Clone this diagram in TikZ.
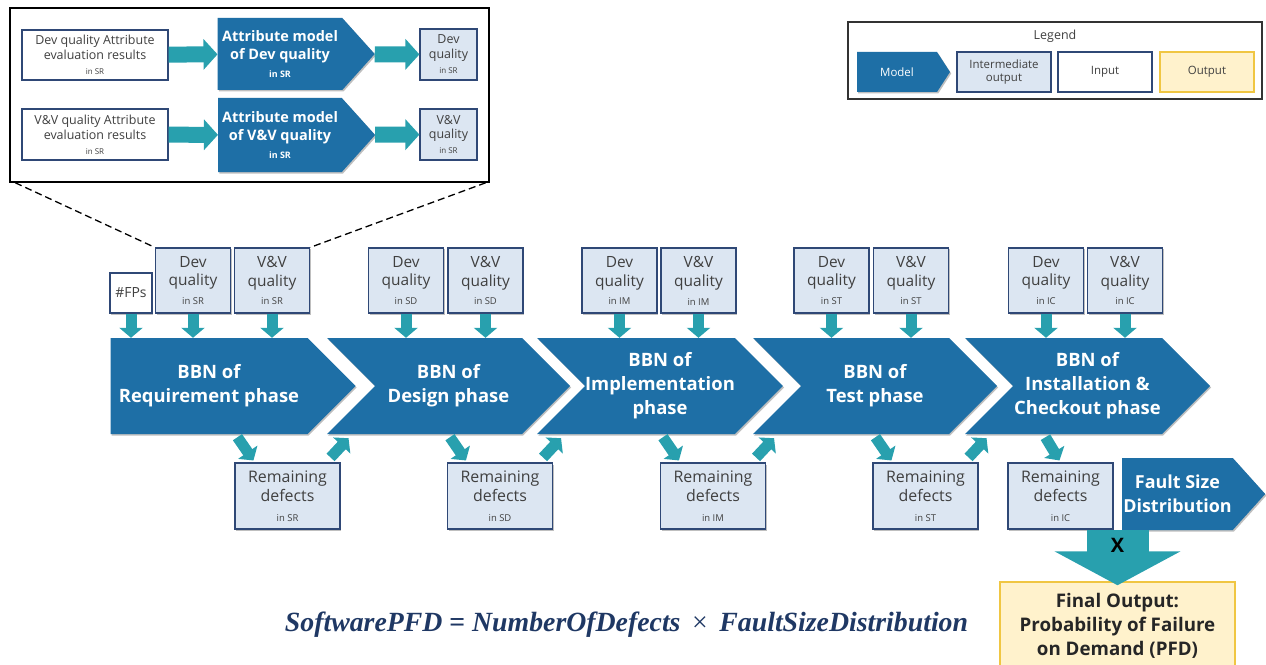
\documentclass[tikz,border=0pt]{standalone}
\usepackage{fontspec}
\setmainfont{Open Sans}
\newfontfamily\eqfont{Liberation Serif}
\usepackage{graphicx}
\usepackage{xcolor}
\usepackage{tikz}
\usetikzlibrary{shapes,arrows}
\usetikzlibrary{arrows.meta}
\usetikzlibrary{calc,shadows}

\definecolor{bbnblue}{RGB}{30,111,166}
\definecolor{boxfill}{RGB}{220,230,242}
\definecolor{boxline}{RGB}{47,72,118}
\definecolor{feedteal}{RGB}{40,160,174}
\definecolor{outfill}{RGB}{255,242,204}
\definecolor{outline}{RGB}{240,198,66}
\definecolor{eqnavy}{RGB}{31,56,100}
\definecolor{txtgray}{RGB}{64,64,64}

\newcommand{\inph}[1]{{\fontsize{9.5}{11}\selectfont in #1}}
\newcommand{\ininset}[1]{{\fontsize{8}{10}\selectfont in #1}}

\begin{document}
\begin{tikzpicture}[x=1bp, y=-1bp]
\tikzstyle{softshadow}=[drop shadow={shadow xshift=1.2bp, shadow yshift=-1.5bp, opacity=.25, fill=black}]
\tikzstyle{model}=[signal, signal to=east, signal pointer angle=90, fill=bbnblue, text=white, align=center, inner sep=0pt, softshadow]
\tikzstyle{phase}=[model, signal from=west, minimum height=96bp, font=\fontsize{18.5}{24}\selectfont\bfseries]
\tikzstyle{interbox}=[draw=boxline, fill=boxfill, line width=1.1bp, align=center, inner sep=0pt, text=txtgray, softshadow]
\tikzstyle{inputbox}=[interbox, fill=white]
\tikzstyle{outputbox}=[draw=outline, fill=outfill, line width=1.5bp, align=center, inner sep=0pt]
\tikzstyle{qbox}=[interbox, minimum width=75bp, minimum height=65bp, font=\fontsize{15.5}{19}\selectfont]
\tikzstyle{rembox}=[interbox, minimum width=105bp, minimum height=66bp, font=\fontsize{16}{19.5}\selectfont]
\tikzstyle{feed}=[draw=feedteal, line width=11bp, -{Triangle[width=23bp, length=10bp]}]
\tikzstyle{feedwide}=[draw=feedteal, line width=16bp, -{Triangle[width=30bp, length=14bp]}]
\tikzstyle{bigfeed}=[draw=feedteal, line width=62bp, -{Triangle[width=125bp, length=34bp]}]
\tikzstyle{zoomline}=[draw=black, line width=1.3bp, dash pattern=on 7bp off 4bp]

\useasboundingbox (0,0) rectangle (1266,665);
\clip (0,0) rectangle (1266,665);

% Zoomed 'inset' of the attribute models
\node[draw=black, line width=1.5bp, fill=white, minimum width=479bp, minimum height=174bp] (inset) at (249.5,95) {};
\node[inputbox, minimum width=146bp, minimum height=50bp, font=\fontsize{12.5}{15}\selectfont] (in-dev) at (95,55) {Dev quality Attribute\\evaluation results\\\ininset{SR}};
\node[model, signal pointer angle=96, minimum width=157bp, minimum height=72bp, font=\fontsize{14.5}{18}\selectfont\bfseries] (am-dev) at (280,54) {Attribute model\\of Dev quality\\{\fontsize{9}{11}\selectfont in SR}};
\node[interbox, minimum width=57bp, minimum height=51bp, font=\fontsize{12.5}{15}\selectfont] (q-dev) at (448.5,54.5) {Dev\\quality\\\ininset{SR}};
\node[inputbox, minimum width=146bp, minimum height=51bp, font=\fontsize{12.5}{15}\selectfont] (in-vv) at (95,134.5) {V\&V quality Attribute\\evaluation results\\\ininset{SR}};
\node[model, signal pointer angle=96, minimum width=157bp, minimum height=74bp, font=\fontsize{14.5}{18}\selectfont\bfseries] (am-vv) at (280,135) {Attribute model\\of V\&V quality\\{\fontsize{9}{11}\selectfont in SR}};
\node[interbox, minimum width=57bp, minimum height=51bp, font=\fontsize{12.5}{15}\selectfont] (q-vv) at (448.5,134.5) {V\&V\\quality\\\ininset{SR}};

\path[feedwide] (in-dev) -- (am-dev);
\path[feedwide] (am-dev) -- (q-dev);
\path[feedwide] (in-vv) -- (am-vv);
\path[feedwide] (am-vv) -- (q-vv);

% Legend
\node[draw=black!80, line width=1.2bp, fill=white, minimum width=414bp, minimum height=77bp, label={[anchor=north, font=\fontsize{12.5}{15}\selectfont, text=txtgray, yshift=-5bp]north:Legend}] (legend) at (1055,60.5) {};
\node[model, signal pointer angle=114, minimum width=93bp, minimum height=40bp, font=\fontsize{11.5}{14}\selectfont] (lg-model) at (897,72) {Model};
\node[interbox, minimum width=94bp, minimum height=40bp, font=\fontsize{11.5}{14}\selectfont] (lg-inter) at (1004,72) {Intermediate\\output};
\node[inputbox, minimum width=94bp, minimum height=40bp, font=\fontsize{11.5}{14}\selectfont] (lg-input) at (1105,72) {Input};
\node[outputbox, minimum width=94bp, minimum height=40bp, font=\fontsize{11.5}{14}\selectfont, text=txtgray] (lg-output) at (1207,72) {Output};

% Phase models
\node[phase, signal from=nowhere, minimum width=245bp] (bbn-req) at (209,386) {BBN of\\Requirement phase};
\node[phase, minimum width=243bp] (bbn-des) at (448.5,386) {BBN of\\Design phase};
\node[phase, minimum width=244bp] (bbn-imp) at (660,386) {BBN of\\Implementation\\phase};
\node[phase, minimum width=244bp] (bbn-tst) at (875,386) {BBN of\\Test phase};
\node[phase, minimum width=245bp] (bbn-ic) at (1087.5,386) {BBN of\\Installation \&\\Checkout phase};

% Quality inputs per phase
\node[inputbox, minimum width=42bp, minimum height=40bp, font=\fontsize{14}{17}\selectfont] (fps) at (131,293) {\#FPs};
\node[qbox] (dev-sr) at (193,280.5) {Dev\\quality\\\inph{SR}};
\node[qbox] (vv-sr) at (272,280.5) {V\&V\\quality\\\inph{SR}};
\node[qbox] (dev-sd) at (406,280.5) {Dev\\quality\\\inph{SD}};
\node[qbox] (vv-sd) at (485.5,280.5) {V\&V\\quality\\\inph{SD}};
\node[qbox] (dev-im) at (619.5,280.5) {Dev\\quality\\\inph{IM}};
\node[qbox] (vv-im) at (698.5,280.5) {V\&V\\quality\\\inph{IM}};
\node[qbox] (dev-st) at (831.5,280.5) {Dev\\quality\\\inph{ST}};
\node[qbox] (vv-st) at (911,280.5) {V\&V\\quality\\\inph{ST}};
\node[qbox] (dev-ic) at (1046,280.5) {Dev\\quality\\\inph{IC}};
\node[qbox] (vv-ic) at (1125,280.5) {V\&V\\quality\\\inph{IC}};

\draw[zoomline] ([xshift=6bp]inset.south west) -- (dev-sr.north west);
\draw[zoomline] ([xshift=-4bp]inset.south east) -- (vv-sr.north east);

\path[feed] (fps.south) -- (fps.south |- bbn-req.north);
\path[feed] (dev-sr.south) -- (dev-sr.south |- bbn-req.north);
\path[feed] (vv-sr.south) -- (vv-sr.south |- bbn-req.north);
\path[feed] (dev-sd.south) -- (dev-sd.south |- bbn-des.north);
\path[feed] (vv-sd.south) -- (vv-sd.south |- bbn-des.north);
\path[feed] (dev-im.south) -- (dev-im.south |- bbn-imp.north);
\path[feed] (vv-im.south) -- (vv-im.south |- bbn-imp.north);
\path[feed] (dev-st.south) -- (dev-st.south |- bbn-tst.north);
\path[feed] (vv-st.south) -- (vv-st.south |- bbn-tst.north);
\path[feed] (dev-ic.south) -- (dev-ic.south |- bbn-ic.north);
\path[feed] (vv-ic.south) -- (vv-ic.south |- bbn-ic.north);

% Remaining defects between phases
\node[rembox] (rem-sr) at (287.5,496) {Remaining\\defects\\\inph{SR}};
\node[rembox] (rem-sd) at (500,496) {Remaining\\defects\\\inph{SD}};
\node[rembox] (rem-im) at (713,496) {Remaining\\defects\\\inph{IM}};
\node[rembox] (rem-st) at (925.5,496) {Remaining\\defects\\\inph{ST}};
\node[rembox] (rem-ic) at (1060.5,496) {Remaining\\defects\\\inph{IC}};

\path[feed] ($(bbn-req.south -| rem-sr.north west)+(3,3)$) -- ($(rem-sr.north west)+(19,-2)$);
\path[feed] ($(rem-sr.north east)+(-10,-5)$) -- ($(bbn-des.south -| rem-sr.north east)+(8,4)$);
\path[feed] ($(bbn-des.south -| rem-sd.north west)+(3,3)$) -- ($(rem-sd.north west)+(19,-2)$);
\path[feed] ($(rem-sd.north east)+(-10,-5)$) -- ($(bbn-imp.south -| rem-sd.north east)+(8,4)$);
\path[feed] ($(bbn-imp.south -| rem-im.north west)+(3,3)$) -- ($(rem-im.north west)+(19,-2)$);
\path[feed] ($(rem-im.north east)+(-10,-5)$) -- ($(bbn-tst.south -| rem-im.north east)+(8,4)$);
\path[feed] ($(bbn-tst.south -| rem-st.north west)+(3,3)$) -- ($(rem-st.north west)+(19,-2)$);
\path[feed] ($(rem-st.north east)+(-10,-5)$) -- ($(bbn-ic.south -| rem-st.north east)+(8,4)$);
\path[feed] ($(bbn-ic.south -| rem-ic.north west)+(38,3)$) -- ($(rem-ic.north west)+(52,-2)$);

% Fault size and final output
\node[model, signal pointer angle=96, minimum width=143bp, minimum height=72bp, font=\fontsize{18}{24}\selectfont\bfseries] (fsd) at (1177.5,494) {Fault Size\\Distribution};
\node[outputbox, minimum width=235bp, minimum height=88bp, font=\fontsize{18.8}{24}\selectfont\bfseries, text=black!85] (final) at (1117.5,626) {Final Output:\\Probability of Failure\\on Demand (PFD)};
\path[bigfeed] (final.north |- fsd.south) -- ([yshift=-4bp]final.north) node[pos=0.27, text=black, font=\fontsize{20}{24}\selectfont\bfseries] {X};

\node[text=eqnavy] (eq) at (626.5,625) {\resizebox{683bp}{!}{\eqfont\bfseries\itshape SoftwarePFD {\upshape =} NumberOfDefects\, {\upshape\mdseries ×}\, FaultSizeDistribution}};
\end{tikzpicture}
\end{document}
